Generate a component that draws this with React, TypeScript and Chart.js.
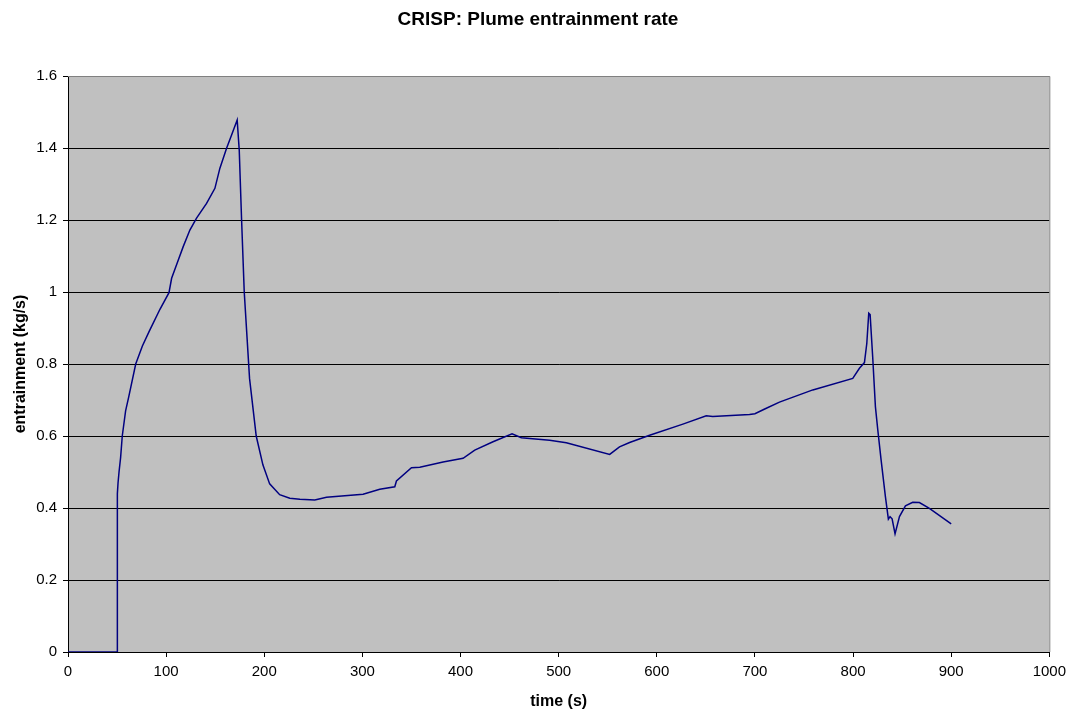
import { useEffect, useRef } from 'react';
import { Chart, registerables } from 'chart.js';

Chart.register(...registerables);

const TITLE = 'CRISP: Plume entrainment rate';
const X_TITLE = 'time (s)';
const Y_TITLE = 'entrainment (kg/s)';

const times = [
  0, 50, 50.3, 51, 52, 53.6, 55.3, 58.7, 62, 69, 75.8, 82.6, 93.7, 102.9, 105.6, 112.4, 117.4, 124.2,
  131, 141.2, 149.7, 154.8, 161.6, 166.7, 172.4, 174.5, 176.9, 179.6, 185, 191.8, 198.6, 205.5, 215.7,
  226, 236.3, 251.5, 263.4, 300.7, 317.7, 333, 334.7, 350, 358.5, 382.2, 402.6, 414.5, 433.1, 452.5,
  462, 490.8, 507.8, 552, 562, 572.3, 592.7, 626.6, 650.4, 657, 694.5, 700, 710, 725, 759, 799.7,
  806.5, 811.6, 814, 816, 817.4, 820, 822.8, 825.2, 828.6, 833, 836, 837.7, 839.8, 842.8, 847.3,
  853.4, 860.8, 867.6, 877.8, 900,
];

const entrainment = [
  0, 0, 0.44, 0.47, 0.5, 0.54, 0.6, 0.67, 0.71, 0.8, 0.85, 0.89, 0.952, 0.998, 1.038, 1.089, 1.126, 1.172,
  1.205, 1.246, 1.288, 1.344, 1.399, 1.436, 1.478, 1.394, 1.2, 1.0, 0.76, 0.6, 0.52, 0.467, 0.437,
  0.427, 0.424, 0.422, 0.43, 0.438, 0.452, 0.459, 0.475, 0.512, 0.513, 0.528, 0.538, 0.561, 0.584, 0.606,
  0.595, 0.588, 0.581, 0.549, 0.57, 0.582, 0.602, 0.633, 0.656, 0.654, 0.66, 0.662, 0.675, 0.694, 0.728, 0.76,
  0.788, 0.804, 0.857, 0.941, 0.937, 0.82, 0.681, 0.617, 0.533, 0.431, 0.369, 0.376, 0.37, 0.328, 0.376,
  0.406, 0.416, 0.415, 0.399, 0.356,
];

const FONT = "'Liberation Sans', Arial, sans-serif";

export default function App() {
  const ref = useRef<HTMLCanvasElement | null>(null);

  useEffect(() => {
    if (!ref.current) return;
    const bgPlugin = {
      id: 'plotBg',
      beforeDraw(chart: any) {
        const { ctx, chartArea } = chart;
        ctx.save();
        ctx.fillStyle = '#ffffff';
        ctx.fillRect(0, 0, chart.width, chart.height);
        ctx.fillStyle = '#C0C0C0';
        ctx.fillRect(chartArea.left, chartArea.top, chartArea.right - chartArea.left, chartArea.bottom - chartArea.top);
        ctx.restore();
      },
      afterDraw(chart: any) {
        const { ctx, chartArea } = chart;
        ctx.save();
        ctx.strokeStyle = '#808080';
        ctx.lineWidth = 1;
        ctx.beginPath();
        ctx.moveTo(chartArea.left, chartArea.top + 0.5);
        ctx.lineTo(chartArea.right + 0.5, chartArea.top + 0.5);
        ctx.lineTo(chartArea.right + 0.5, chartArea.bottom);
        ctx.stroke();
        ctx.fillStyle = '#000000';
        ctx.font = `bold 19px ${FONT}`;
        ctx.textAlign = 'center';
        ctx.textBaseline = 'middle';
        ctx.fillText(TITLE, 538, 20);
        ctx.restore();
      },
    };

    const chart = new Chart(ref.current, {
      type: 'line',
      data: {
        datasets: [
          {
            data: times.map((t, i) => ({ x: t, y: entrainment[i] })),
            borderColor: '#000080',
            borderWidth: 1.5,
            pointRadius: 0,
            tension: 0,
            fill: false,
          },
        ],
      },
      options: {
        animation: false,
        responsive: false,
        layout: { padding: { top: 76, right: 22, left: 0, bottom: 0 } },
        plugins: { legend: { display: false }, title: { display: false }, tooltip: { enabled: false } },
        scales: {
          x: {
            type: 'linear',
            min: 0,
            max: 1000,
            border: { color: '#000000', width: 1 },
            grid: { drawOnChartArea: false, drawTicks: true, tickLength: 5, tickColor: '#000000' },
            ticks: {
              stepSize: 100,
              padding: 6,
              color: '#000000',
              font: { family: FONT, size: 15 },
              maxRotation: 0,
              callback: (v: any) => String(Math.round(Number(v))),
            },
            title: { display: true, text: X_TITLE, color: '#000000', font: { family: FONT, size: 16, weight: 'bold' }, padding: { top: 4, bottom: 3 } },
            afterFit(scale: any) {
              scale.height = 62;
            },
          },
          y: {
            type: 'linear',
            min: 0,
            max: 1.6,
            border: { color: '#000000', width: 1 },
            grid: {
              color: (c: any) => (c.tick && Math.abs(c.tick.value - 1.6) < 1e-6 ? '#808080' : '#000000'),
              tickColor: '#000000',
              tickLength: 5,
              lineWidth: 1,
            },
            ticks: {
              stepSize: 0.2,
              padding: 6,
              color: '#000000',
              font: { family: FONT, size: 15 },
              callback: (v: any) => String(Number(Number(v).toFixed(1))),
            },
            title: { display: true, text: Y_TITLE, color: '#000000', font: { family: FONT, size: 16, weight: 'bold' }, padding: { top: 11, bottom: 4 } },
            afterFit(scale: any) {
              scale.width = 68;
            },
          },
        },
      },
      plugins: [bgPlugin],
    });
    return () => chart.destroy();
  }, []);

  return (
    <div style={{ position: 'absolute', left: 0, top: 0, width: 1072, height: 714, background: '#fff' }}>
      <canvas ref={ref} width={1072} height={714} style={{ display: 'block' }} />
    </div>
  );
}
